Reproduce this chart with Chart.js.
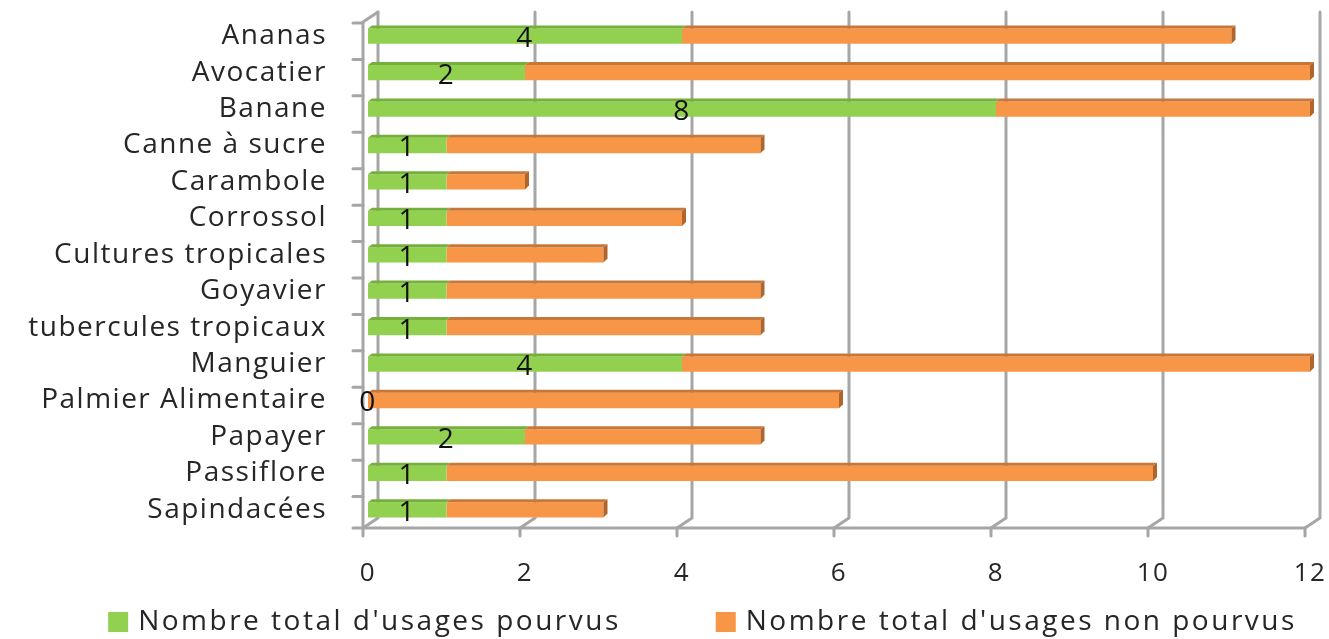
<!DOCTYPE html>
<html lang="fr">
<head>
  <meta charset="UTF-8">
  <title>Usages pourvus / non pourvus</title>
  <script src="https://cdn.jsdelivr.net/npm/chart.js"></script>
  <style>
    html, body { margin: 0; padding: 0; background: #fff; }
    .chart-box { width: 1329px; height: 639px; }
  </style>
</head>
<body>
  <div class="chart-box">
    <canvas id="usagesChart"></canvas>
  </div>

  <script>
    // données
    const categories = ['Ananas', 'Avocatier', 'Banane', 'Canne à sucre', 'Carambole', 'Corrossol',
      'Cultures tropicales', 'Goyavier', 'tubercules tropicaux', 'Manguier', 'Palmier Alimentaire',
      'Papayer', 'Passiflore', 'Sapindacées'];
    const pourvus = [4, 2, 8, 1, 1, 1, 1, 1, 1, 4, 0, 2, 1, 1];
    const nonPourvus = [7, 10, 4, 4, 1, 3, 2, 4, 4, 8, 6, 3, 9, 2];
    const xTicks = [0, 2, 4, 6, 8, 10, 12];
    const seriesNames = ["Nombre total d'usages pourvus", "Nombre total d'usages non pourvus"];

    const FONT = '"Open Sans", sans-serif';
    const SPACING = '1.5px';
    const green = '#92d050', greenDark = '#74b03a';
    const orange = '#f79646', orangeTop = '#c8773a', orangeSide = '#b0652c';

    // faux 3D : murs, grille arrière, ticks avant
    const frame3d = {
      id: 'frame3d',
      beforeDraw(chart) {
        chart.ctx.letterSpacing = SPACING;
      },
      beforeDatasetsDraw(chart) {
        const { ctx, chartArea: a, scales: { x } } = chart;
        const bottom = a.bottom, back = 15, up = 10;
        ctx.save();
        ctx.strokeStyle = '#a6a6a6';
        ctx.lineWidth = 3;
        ctx.lineCap = 'round';
        xTicks.forEach(v => {
          const front = x.getPixelForValue(v) - 5;
          ctx.beginPath();
          ctx.moveTo(front, bottom);
          ctx.lineTo(front + back, bottom - up);
          ctx.lineTo(front + back, a.top - 6);
          ctx.stroke();
          ctx.beginPath();
          ctx.moveTo(front, bottom);
          ctx.lineTo(front, bottom + 8);
          ctx.stroke();
        });
        ctx.beginPath();
        ctx.moveTo(x.getPixelForValue(0) - 5, bottom);
        ctx.lineTo(x.getPixelForValue(12) - 5, bottom);
        ctx.stroke();
        const lx = x.getPixelForValue(0) - 5;
        ctx.beginPath();
        ctx.moveTo(lx, bottom);
        ctx.lineTo(lx, a.top + 4);
        ctx.lineTo(lx + back, a.top - 6);
        ctx.stroke();
        const band = (a.bottom - a.top) / categories.length;
        for (let i = 0; i <= categories.length; i++) {
          const ty = Math.min(a.top + i * band + 5, bottom);
          ctx.beginPath();
          ctx.moveTo(lx - 10, ty);
          ctx.lineTo(lx, ty);
          ctx.stroke();
        }
        ctx.restore();
      },
      afterDatasetsDraw(chart) {
        const { ctx } = chart;
        const d = 4;
        ctx.save();
        chart.data.datasets.forEach((ds, di) => {
          const meta = chart.getDatasetMeta(di);
          meta.data.forEach((bar, i) => {
            if (!ds.data[i]) return;
            const top = bar.y - bar.height / 2;
            const bot = bar.y + bar.height / 2;
            ctx.fillStyle = di === 0 ? greenDark : orangeTop;
            ctx.beginPath();
            ctx.moveTo(bar.base, top);
            ctx.lineTo(bar.x, top);
            ctx.lineTo(bar.x + d, top - d + 1);
            ctx.lineTo(bar.base + d, top - d + 1);
            ctx.closePath();
            ctx.fill();
            if (di === 1) {
              ctx.fillStyle = orangeSide;
              ctx.beginPath();
              ctx.moveTo(bar.x, top);
              ctx.lineTo(bar.x + d, top - d + 1);
              ctx.lineTo(bar.x + d, bot - d);
              ctx.lineTo(bar.x, bot);
              ctx.closePath();
              ctx.fill();
            }
          });
        });
        // étiquettes des valeurs pourvues
        const meta0 = chart.getDatasetMeta(0);
        ctx.fillStyle = '#111';
        ctx.font = '28px ' + FONT;
        ctx.textAlign = 'center';
        ctx.textBaseline = 'middle';
        meta0.data.forEach((bar, i) => {
          ctx.fillText(String(pourvus[i]), (bar.base + bar.x) / 2, bar.y + 3);
        });
        ctx.restore();
      },
      afterDraw(chart) {
        const { ctx, width, height } = chart;
        ctx.save();
        ctx.letterSpacing = '2.5px';
        ctx.font = '28px ' + FONT;
        ctx.textBaseline = 'middle';
        const box = 20, gapBox = 10, gapItem = 95;
        const widths = seriesNames.map(t => box + gapBox + ctx.measureText(t).width);
        const total = widths[0] + gapItem + widths[1];
        let cx = width / 2 + 38 - total / 2;
        const cy = height - 17;
        chart.data.datasets.forEach((ds, i) => {
          ctx.fillStyle = ds.backgroundColor;
          ctx.fillRect(cx, cy - box / 2, box, box);
          ctx.fillStyle = '#262626';
          ctx.textAlign = 'left';
          ctx.fillText(ds.label, cx + box + gapBox, cy);
          cx += widths[i] + gapItem;
        });
        ctx.restore();
        ctx.letterSpacing = '0px';
      }
    };

    new Chart(document.getElementById('usagesChart'), {
      type: 'bar',
      data: {
        labels: categories,
        datasets: [
          { label: seriesNames[0], data: pourvus, backgroundColor: green },
          { label: seriesNames[1], data: nonPourvus, backgroundColor: orange }
        ]
      },
      options: {
        indexAxis: 'y',
        responsive: true,
        maintainAspectRatio: false,
        animation: false,
        categoryPercentage: 0.42,
        barPercentage: 1,
        layout: { padding: { top: 18, right: 19, bottom: 31, left: 0 } },
        plugins: {
          legend: { display: false },
          tooltip: { enabled: false }
        },
        scales: {
          x: {
            stacked: true,
            min: 0,
            max: 12,
            afterBuildTicks: s => { s.ticks = xTicks.map(v => ({ value: v })); },
            afterFit: s => { s.paddingLeft = 0; s.paddingRight = 0; s.height = 80; },
            grid: { display: false },
            border: { display: false },
            ticks: { padding: 22, color: '#262626', font: { family: FONT, size: 26 } }
          },
          y: {
            stacked: true,
            afterFit: s => { s.width = 368; s.paddingTop = 0; s.paddingBottom = 0; },
            grid: { display: false },
            border: { display: false },
            ticks: { autoSkip: false, padding: 33, color: '#262626', font: { family: FONT, size: 28 } }
          }
        }
      },
      plugins: [frame3d]
    });
  </script>
</body>
</html>
